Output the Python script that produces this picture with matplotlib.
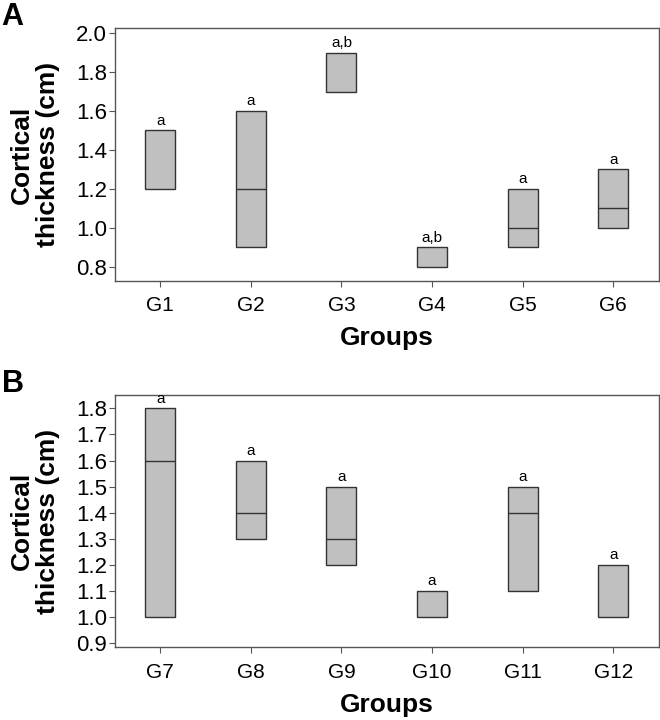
import matplotlib
matplotlib.use("Agg")
from matplotlib import pyplot as plt

plt.rcParams['font.family'] = ['Liberation Sans', 'DejaVu Sans']

# Panel A data (box low, box high, median, letters)
groups_a = ['G1', 'G2', 'G3', 'G4', 'G5', 'G6']
low_a = [1.2, 0.9, 1.7, 0.8, 0.9, 1.0]
high_a = [1.5, 1.6, 1.9, 0.9, 1.2, 1.3]
median_a = [None, 1.2, None, None, 1.0, 1.1]
letters_a = ['a', 'a', 'a,b', 'a,b', 'a', 'a']
yticks_a = [0.8, 1.0, 1.2, 1.4, 1.6, 1.8, 2.0]

# Panel B data
groups_b = ['G7', 'G8', 'G9', 'G10', 'G11', 'G12']
low_b = [1.0, 1.3, 1.2, 1.0, 1.1, 1.0]
high_b = [1.8, 1.6, 1.5, 1.1, 1.5, 1.2]
median_b = [1.6, 1.4, 1.3, None, 1.4, None]
letters_b = ['a', 'a', 'a', 'a', 'a', 'a']
yticks_b = [0.9, 1.0, 1.1, 1.2, 1.3, 1.4, 1.5, 1.6, 1.7, 1.8]

box_w = 0.33
edge = '#333333'
spine_col = '#555555'


def draw_panel(ax, groups, low, high, med, letters, yticks, ylim, tag):
    x = list(range(len(groups)))
    heights = [h - l for l, h in zip(low, high)]
    ax.bar(x, heights, bottom=low, width=box_w, color='#c0c0c0',
           edgecolor=edge, linewidth=1.0, zorder=2)
    for i, m in enumerate(med):
        if m is not None:
            ax.hlines(m, i - box_w / 2, i + box_w / 2, color=edge, linewidth=1.0, zorder=3)
    for i, (h, s) in enumerate(zip(high, letters)):
        ax.annotate(s, (i, h), xytext=(0, 2), textcoords='offset points',
                    ha='center', va='bottom', fontsize=11)
    ax.set_xlim(-0.5, 5.5)
    ax.set_ylim(*ylim)
    ax.set_xticks(x)
    ax.set_xticklabels(groups, fontsize=15)
    ax.set_yticks(yticks)
    ax.set_yticklabels(['%.1f' % v for v in yticks], fontsize=16)
    ax.tick_params(axis='x', length=4, pad=7, color=spine_col)
    ax.tick_params(axis='y', length=4, pad=1.5, color=spine_col)
    for s in ax.spines.values():
        s.set_color(spine_col)
        s.set_linewidth(1.0)
    ax.set_ylabel('Cortical\nthickness (cm)', fontsize=19, fontweight='bold',
                  linespacing=1.15)
    ax.yaxis.set_label_coords(-0.1, 0.5)
    ax.set_xlabel('Groups', fontsize=19, fontweight='bold', labelpad=8)
    ax.text(-0.208, 1.045, tag, transform=ax.transAxes, fontsize=22,
            fontweight='bold', ha='left', va='center')


fig = plt.figure(figsize=(6.6, 7.2), dpi=100)
ax1 = fig.add_axes([0.174, 0.610, 0.824, 0.351])
ax2 = fig.add_axes([0.174, 0.101, 0.824, 0.350])

draw_panel(ax1, groups_a, low_a, high_a, median_a, letters_a, yticks_a, (0.728, 2.026), 'A')
draw_panel(ax2, groups_b, low_b, high_b, median_b, letters_b, yticks_b, (0.885, 1.85), 'B')

fig.savefig('out.png', dpi=100)
